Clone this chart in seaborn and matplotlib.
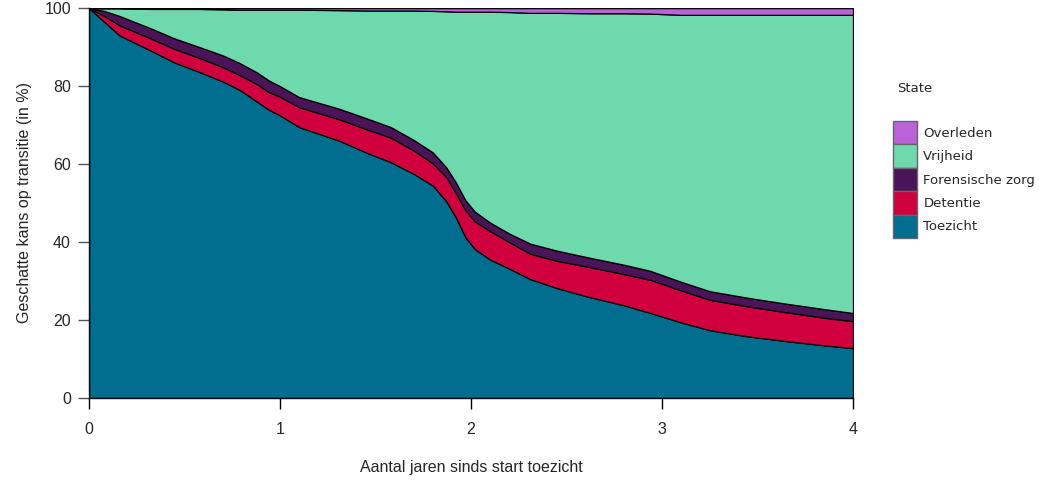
import matplotlib
matplotlib.use("Agg")
import matplotlib.pyplot as plt
from matplotlib.patches import Patch
import seaborn as sns

# years since start of supervision
jaren = [0.00, 0.08, 0.16, 0.32, 0.45, 0.58, 0.70, 0.79, 0.88, 0.94,
         1.00, 1.10, 1.31, 1.45, 1.58, 1.70, 1.80, 1.87, 1.92, 1.97,
         2.02, 2.10, 2.20, 2.31, 2.45, 2.62, 2.80, 2.94, 3.10, 3.25,
         3.45, 3.65, 3.85, 4.00]

# estimated share per state (in %)
toezicht = [100, 96.5, 93.0, 89.2, 86.0, 83.6, 81.2, 79.0, 76.0, 74.0,
            72.5, 69.5, 66.0, 63.0, 60.5, 57.5, 54.5, 50.5, 46.4, 41.3,
            38.2, 35.5, 33.2, 30.5, 28.2, 25.9, 23.8, 21.8, 19.4, 17.4,
            15.8, 14.6, 13.5, 12.8]
detentie = [0, 1.5, 2.6, 3.1, 3.5, 3.6, 3.7, 3.8, 4.5, 4.5,
            4.8, 5.1, 5.5, 6.0, 6.3, 6.0, 5.7, 6.2, 6.2, 6.9,
            7.1, 7.3, 6.8, 6.5, 7.0, 7.7, 8.0, 8.5, 8.2, 7.8,
            7.7, 7.4, 7.1, 6.9]
forensisch = [0, 1.3, 2.4, 2.6, 2.7, 2.8, 3.0, 3.1, 3.0, 3.0,
              2.7, 2.6, 2.7, 2.8, 2.7, 2.7, 2.8, 2.5, 2.8, 2.6,
              2.5, 2.2, 2.2, 2.6, 2.6, 2.4, 2.4, 2.3, 2.2, 2.2,
              2.2, 2.2, 2.2, 2.1]
vrijheid = [0, 0.7, 2.0, 4.9, 7.6, 9.8, 11.8, 13.7, 16.1, 18.1,
            19.6, 22.4, 25.3, 27.6, 29.9, 33.2, 36.3, 40.0, 43.7, 48.3,
            51.3, 54.1, 56.8, 59.2, 61.0, 62.7, 64.5, 66.0, 68.5, 70.9,
            72.6, 74.1, 75.5, 76.5]
overleden = [0, 0, 0, 0.2, 0.2, 0.2, 0.3, 0.4, 0.4, 0.4,
             0.4, 0.4, 0.5, 0.6, 0.6, 0.6, 0.7, 0.8, 0.9, 0.9,
             0.9, 0.9, 1.0, 1.2, 1.2, 1.3, 1.3, 1.4, 1.7, 1.7,
             1.7, 1.7, 1.7, 1.7]

states = ["Toezicht", "Detentie", "Forensische zorg", "Vrijheid", "Overleden"]
colors = ["#016d8f", "#d0003f", "#4a1458", "#6fd9ae", "#bb62d9"]

sns.set_theme(style="white")
plt.rcParams["font.family"] = ["Liberation Sans", "DejaVu Sans"]

fig = plt.figure(figsize=(10.39, 4.84), dpi=100)
ax = fig.add_axes([89 / 1039, 1 - 398 / 484, 764 / 1039, 391 / 484])

ax.stackplot(jaren, toezicht, detentie, forensisch, vrijheid, overleden,
             colors=colors, edgecolor="black", linewidth=0.9)

ax.set_xlim(0, 4)
ax.set_ylim(0, 100.3)
ax.set_xticks([0, 1, 2, 3, 4])
ax.set_yticks([0, 20, 40, 60, 80, 100])
ax.tick_params(axis="x", direction="out", length=8, width=1, color="black",
               pad=9, labelsize=11.5, bottom=True)
ax.tick_params(axis="y", direction="out", length=8, width=1, color="#555555",
               pad=5, labelsize=11.5, left=True)
sns.despine(ax=ax)
for side in ["left", "bottom"]:
    ax.spines[side].set_color("black")
    ax.spines[side].set_linewidth(1)
ax.spines["left"].set_bounds(0, 100)

ax.set_xlabel("Aantal jaren sinds start toezicht", fontsize=11.5, labelpad=17)
ax.set_ylabel("Geschatte kans op transitie (in %)", fontsize=11.5, labelpad=9)

# legend on the right, top state first
fig.text(897 / 1039, 1 - 88 / 484, "State", fontsize=9.5, va="center",
         family=["DejaVu Sans"])
handles = [Patch(facecolor=c, edgecolor="#666666", linewidth=1)
           for c in colors[::-1]]
fig.legend(handles, states[::-1], loc="upper left",
           bbox_to_anchor=(893 / 1039, 1 - 121 / 484),
           bbox_transform=fig.transFigure, frameon=False,
           borderpad=0, borderaxespad=0, labelspacing=0.0,
           handlelength=1.85, handleheight=2.35, handletextpad=0.45,
           prop={"family": "DejaVu Sans", "size": 9.5})

fig.savefig("out.png", dpi=100)
